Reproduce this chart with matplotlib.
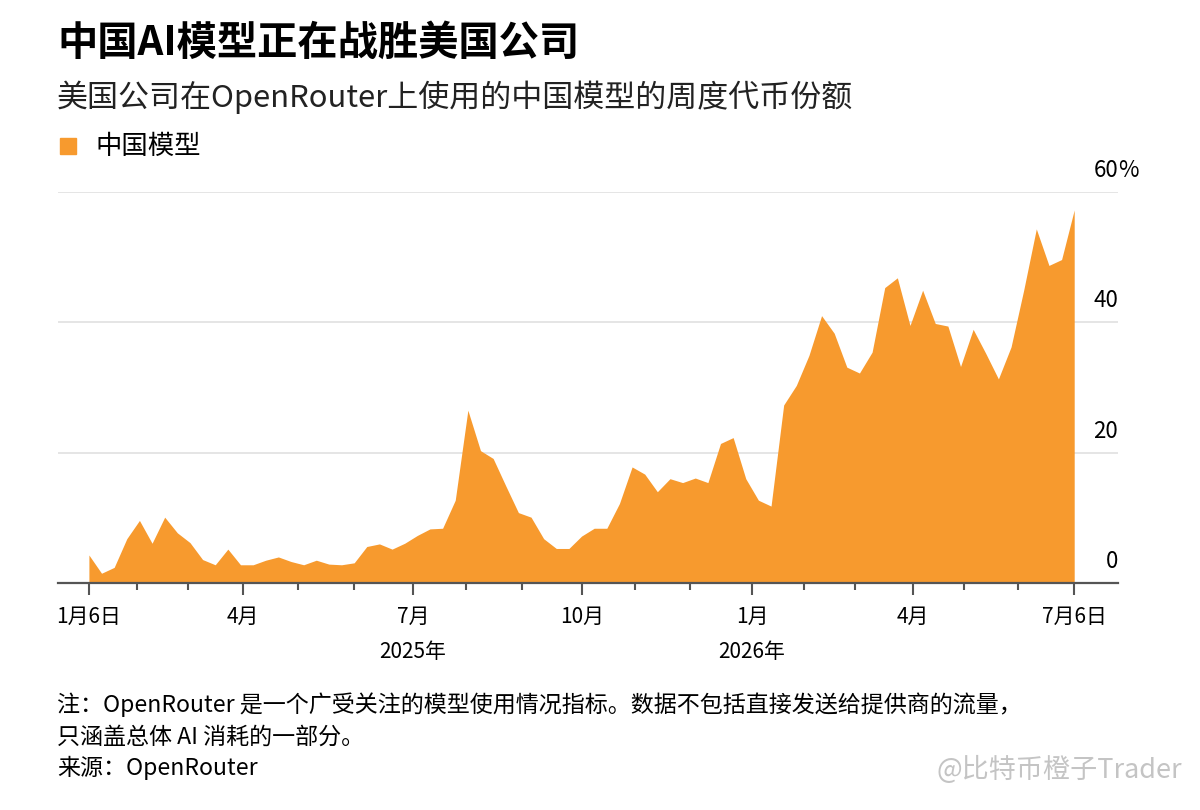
import numpy as np
import matplotlib
matplotlib.use('Agg')
import matplotlib.pyplot as plt
from matplotlib.patches import Rectangle

plt.rcParams['font.family'] = ['Noto Sans CJK SC', 'DejaVu Sans']

# 中国模型的周度代币份额（%），2025年1月6日起每周一个点
share = [4.3, 1.5, 2.4, 6.8, 9.6, 6.1, 10.1, 7.7, 6.2, 3.6,
         2.8, 5.2, 2.8, 2.8, 3.5, 4.0, 3.3, 2.8, 3.5, 2.9,
         2.8, 3.1, 5.6, 6.0, 5.2, 6.1, 7.3, 8.3, 8.4, 12.7,
         26.5, 20.3, 19.1, 14.9, 10.8, 10.1, 6.8, 5.3, 5.3, 7.2,
         8.4, 8.4, 12.2, 17.8, 16.7, 14.0, 16.0, 15.4, 16.1, 15.4,
         21.4, 22.3, 16.0, 12.7, 11.8, 27.3, 30.3, 34.9, 41.0, 38.3,
         33.1, 32.2, 35.4, 45.3, 46.8, 39.5, 44.9, 39.8, 39.4, 33.2,
         38.9, 35.2, 31.3, 36.2, 44.9, 54.3, 48.7, 49.6, 57.2]
weeks = np.arange(len(share))

# x轴刻度（以周为单位）
major_labels = ['1月6日', '4月', '7月', '10月', '1月', '4月', '7月6日']
major_pos = [0, 12.2, 25.65, 39.05, 52.5, 65.2, 78]
minor_pos = [3.77, 7.81, 16.52, 20.98, 29.82, 34.31, 43.26, 47.56,
             56.64, 60.65, 69.28, 73.58]
year_labels = ['2025年', '2026年']
year_pos = [25.65, 52.5]
y_ticks = [0, 20, 40, 60]

orange = '#F79A2E'
axis_col = '#555555'

fig = plt.figure(figsize=(12, 8.1), dpi=100)
ax = fig.add_axes([0.0483, 0.2802, 0.8834, 0.4831])

ax.fill_between(weeks, share, 0, color=orange, lw=0, zorder=2)

ax.set_xlim(-2.45, 81.47)
ax.set_ylim(0, 60)

for s in ['top', 'left', 'right']:
    ax.spines[s].set_visible(False)
ax.spines['bottom'].set_color(axis_col)
ax.spines['bottom'].set_linewidth(1.6)
ax.spines['bottom'].set_zorder(3)

ax.set_yticks(y_ticks)
ax.tick_params(axis='y', left=False, labelleft=False)
ax.grid(axis='y', color='#e0e0e0', lw=1.2, zorder=0)

ax.set_xticks(major_pos)
ax.set_xticklabels(major_labels, fontsize=15)
ax.set_xticks(minor_pos, minor=True)
ax.tick_params(axis='x', which='major', length=8.5, width=1.5, color=axis_col, pad=8)
ax.tick_params(axis='x', which='minor', length=5, width=1.5, color=axis_col)

# 年份标签
for p, lab in zip(year_pos, year_labels):
    ax.annotate(lab, xy=(p, 0), xycoords=('data', 'axes fraction'),
                xytext=(0, -50), textcoords='offset points',
                ha='center', va='center', fontsize=15)

# 右侧y轴标签，位于网格线上方
for v in y_ticks:
    ax.annotate(str(v), xy=(1.0, v), xycoords=('axes fraction', 'data'),
                xytext=(0, 7), textcoords='offset points',
                ha='right', va='bottom', fontsize=16)
ax.annotate('%', xy=(1.0, 60), xycoords=('axes fraction', 'data'),
            xytext=(0, 7), textcoords='offset points',
            ha='left', va='bottom', fontsize=16)

# 标题和图例
fig.text(0.0475, 0.947, '中国AI模型正在战胜美国公司', fontsize=29,
         fontweight='bold', va='center', ha='left')
fig.text(0.0475, 0.880, '美国公司在OpenRouter上使用的中国模型的周度代币份额',
         fontsize=22.3, va='center', ha='left', color='#222222')
fig.add_artist(Rectangle((60 / 1200, 1 - 154 / 810), 16 / 1200, 16 / 810,
                         color=orange, transform=fig.transFigure))
fig.text(95 / 1200, 1 - 146 / 810, '中国模型', fontsize=19, va='center', ha='left')

# 注释
fig.text(0.0475, 1 - 705 / 810,
         '注：OpenRouter 是一个广受关注的模型使用情况指标。数据不包括直接发送给提供商的流量，',
         fontsize=16.6, va='center', ha='left')
fig.text(0.0475, 1 - 737 / 810, '只涵盖总体 AI 消耗的一部分。',
         fontsize=16.6, va='center', ha='left')
fig.text(0.0475, 1 - 768 / 810, '来源：OpenRouter',
         fontsize=16.6, va='center', ha='left')

# 水印
fig.text(0.985, 1 - 770 / 810, '@比特币橙子Trader', fontsize=19.5,
         va='center', ha='right', color='#c4c4c4')

fig.savefig('out.png', dpi=100, facecolor='white')
